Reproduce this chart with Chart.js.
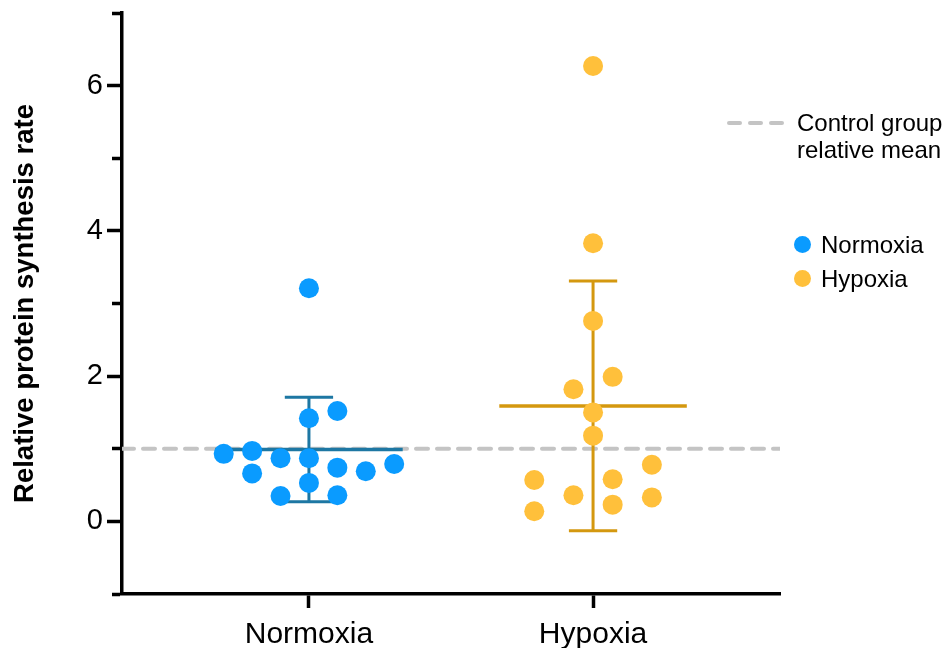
<!DOCTYPE html>
<html>
<head>
<meta charset="utf-8">
<script src="https://cdn.jsdelivr.net/npm/chart.js@4.4.1/dist/chart.umd.min.js"></script>
<style>
    html, body { margin: 0; padding: 0; background: #fff; }
    .o_wrap { position: relative; width: 947px; height: 648px; font-family: "Liberation Sans", Arial, sans-serif; color: #000; }
    .o_legend_dash { position: absolute; top: 121px; width: 15px; height: 4px; border-radius: 2px; background: #c4c4c4; }
    .o_legend_text { position: absolute; font-size: 24px; line-height: 27px; white-space: nowrap; }
    .o_legend_dot { position: absolute; width: 17px; height: 17px; border-radius: 50%; }
</style>
</head>
<body>
<div class="o_wrap">
    <canvas id="chart" width="947" height="648"></canvas>
    <div class="o_legend_dash" style="left: 727px;"></div>
    <div class="o_legend_dash" style="left: 748px;"></div>
    <div class="o_legend_dash" style="left: 769px;"></div>
    <div class="o_legend_text" style="left: 797px; top: 109px;">Control group<br>relative mean</div>
    <div class="o_legend_dot" style="left: 794px; top: 236px; background: #0a9bff;"></div>
    <div class="o_legend_text" style="left: 821px; top: 231px;">Normoxia</div>
    <div class="o_legend_dot" style="left: 794px; top: 270px; background: #ffc03b;"></div>
    <div class="o_legend_text" style="left: 821px; top: 265px;">Hypoxia</div>
</div>
<script>
const categories = ["Normoxia", "Hypoxia"];
const normoxiaValues = [3.21, 1.52, 1.42, 0.93, 0.97, 0.87, 0.87, 0.74, 0.69, 0.79, 0.66, 0.53, 0.35, 0.36];
const normoxiaJitter = [0, 0.1, 0, -0.3, -0.2, -0.1, 0, 0.1, 0.2, 0.3, -0.2, 0, -0.1, 0.1];
const hypoxiaValues = [6.27, 3.83, 2.76, 1.99, 1.82, 1.5, 1.18, 0.78, 0.57, 0.58, 0.36, 0.23, 0.33, 0.14];
const hypoxiaJitter = [0, 0, 0, 0.069, -0.069, 0, 0, 0.207, -0.207, 0.069, -0.069, 0.069, 0.207, -0.207];
const groupMeans = [0.99, 1.59];
const groupSDs = [0.72, 1.72];
const controlMean = 1;

const FONT = "'Liberation Sans', Arial, Helvetica, sans-serif";
const X_MIN = -0.658;
const X_MAX = 1.658;
const MEAN_HALF = 0.33;
const CAP_HALF = 0.085;

function toPoints(values, jitter, groupIndex) {
    return values.map((v, i) => ({ x: groupIndex + jitter[i], y: v }));
}

function meanLine(i) {
    return [
        { x: i - MEAN_HALF, y: groupMeans[i] },
        { x: i + MEAN_HALF, y: groupMeans[i] },
    ];
}

function sdBar(i) {
    const top = groupMeans[i] + groupSDs[i];
    const bottom = groupMeans[i] - groupSDs[i];
    return [
        { x: i - CAP_HALF, y: top }, { x: i + CAP_HALF, y: top }, { x: i, y: null },
        { x: i, y: top }, { x: i, y: bottom }, { x: i, y: null },
        { x: i - CAP_HALF, y: bottom }, { x: i + CAP_HALF, y: bottom },
    ];
}

const lineStyle = (color, width) => ({
    showLine: true,
    borderColor: color,
    borderWidth: width,
    pointRadius: 0,
    borderCapStyle: "butt",
    spanGaps: false,
    order: 2,
});

const dotStyle = (color) => ({
    backgroundColor: color,
    borderWidth: 0,
    pointRadius: 10,
    pointHoverRadius: 10,
    order: 1,
});

// eslint-disable-next-line no-undef
new Chart(document.getElementById("chart"), {
    type: "scatter",
    data: {
        datasets: [
            {
                data: [{ x: X_MIN, y: controlMean }, { x: X_MAX, y: controlMean }],
                showLine: true,
                borderColor: "#c4c4c4",
                borderWidth: 4,
                borderDash: [12, 9],
                borderCapStyle: "round",
                pointRadius: 0,
                order: 3,
            },
            { data: meanLine(0), ...lineStyle("#1d77a3", 3.5) },
            { data: sdBar(0), ...lineStyle("#1d77a3", 3) },
            { data: meanLine(1), ...lineStyle("#d4980f", 3.5) },
            { data: sdBar(1), ...lineStyle("#d4980f", 3) },
            { data: toPoints(normoxiaValues, normoxiaJitter, 0), ...dotStyle("#0a9bff") },
            { data: toPoints(hypoxiaValues, hypoxiaJitter, 1), ...dotStyle("#ffc03b") },
        ],
    },
    options: {
        responsive: false,
        animation: false,
        events: [],
        layout: { padding: { top: 13, right: 167, left: 0, bottom: 0 } },
        plugins: {
            legend: { display: false },
            tooltip: { enabled: false },
        },
        scales: {
            x: {
                type: "linear",
                min: X_MIN,
                max: X_MAX,
                afterBuildTicks: (scale) => {
                    scale.ticks = categories.map((c, i) => ({ value: i }));
                },
                afterFit: (scale) => {
                    scale.height = 54;
                    scale.paddingLeft = 0;
                    scale.paddingRight = 0;
                },
                ticks: {
                    autoSkip: false,
                    maxRotation: 0,
                    padding: 9,
                    color: "#000",
                    font: { family: FONT, size: 30 },
                    callback: (value) => categories[value],
                },
                grid: { drawOnChartArea: false, tickLength: 14, tickWidth: 3.5, tickColor: "#000" },
                border: { color: "#000", width: 3.5 },
            },
            y: {
                min: -1,
                max: 7,
                afterFit: (scale) => {
                    scale.width = 122;
                    scale.paddingTop = 0;
                    scale.paddingBottom = 0;
                },
                ticks: {
                    stepSize: 1,
                    autoSkip: false,
                    padding: 4,
                    color: "#000",
                    font: { family: FONT, size: 29 },
                    callback: (value) => (value % 2 === 0 ? value : ""),
                },
                grid: {
                    drawOnChartArea: false,
                    tickLength: 15,
                    tickWidth: 3.5,
                    tickColor: "#000",
                    // tick lines run from the outer end in, so skip 5px to keep minor ticks on the axis
                    tickBorderDash: (ctx) => (ctx.tick && ctx.tick.value % 2 !== 0 ? [0, 5, 40] : []),
                },
                border: { color: "#000", width: 3.5 },
                title: {
                    display: true,
                    text: "Relative protein synthesis rate",
                    color: "#000",
                    font: { family: FONT, size: 27.5, weight: "bold" },
                    padding: { top: 9, bottom: 0 },
                },
            },
        },
    },
});
</script>
</body>
</html>
